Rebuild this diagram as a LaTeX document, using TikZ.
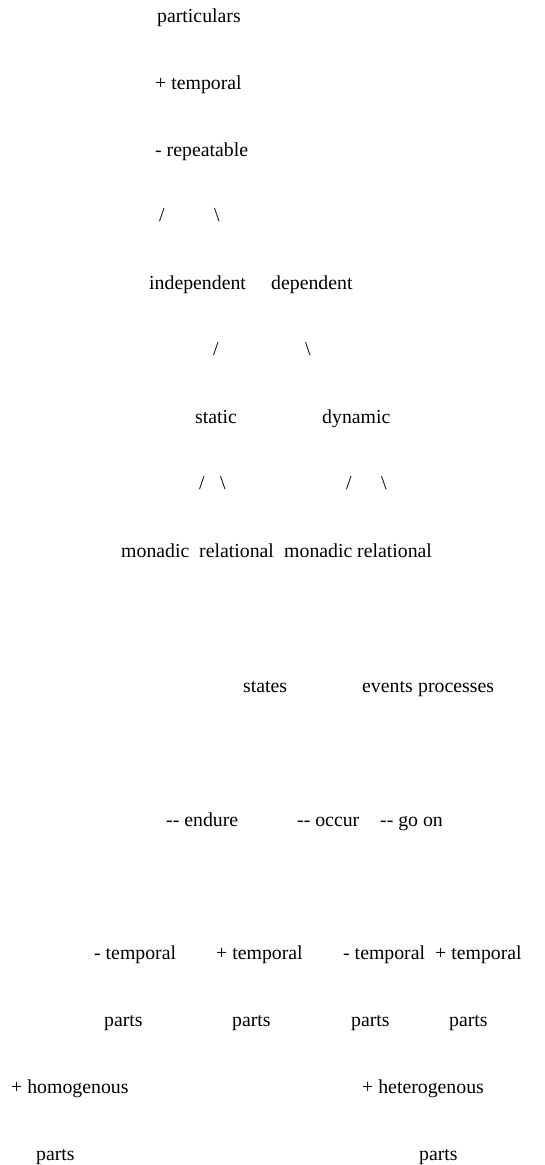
\documentclass[tikz,border=0pt]{standalone}
\usepackage{fontspec}
\setmainfont{Liberation Serif}[Ligatures=TeXOff]
\usepackage{tikz}

\begin{document}
\begin{tikzpicture}[x=1pt,y=-1pt,
  lbl/.style={anchor=base west,inner sep=0pt,font=\fontsize{19.8}{24}\selectfont}]
  \useasboundingbox (0,0) rectangle (545,1165);

  % top of the tree
  \node[lbl] (part) at (157,22) {particulars};
  \node[lbl] (ptemp) at (155,89) {+ temporal};
  \node[lbl] (mrep) at (155,156) {- repeatable};
  \node[lbl] (sl1) at (159,221) {/};
  \node[lbl] (bs1) at (214,221) {\textbackslash};
  \node[lbl] (indep) at (149,289) {independent};
  \node[lbl] (dep) at (271,289) {dependent};

  % second split
  \node[lbl] (sl2) at (213,355) {/};
  \node[lbl] (bs2) at (305,355) {\textbackslash};
  \node[lbl] (stat) at (195,423) {static};
  \node[lbl] (dyn) at (322,423) {dynamic};
  \node[lbl] (sl3) at (199,489) {/};
  \node[lbl] (bs3) at (220,489) {\textbackslash};
  \node[lbl] (sl4) at (346,489) {/};
  \node[lbl] (bs4) at (381,489) {\textbackslash};
  \node[lbl] (mon1) at (121,557) {monadic};
  \node[lbl] (rel1) at (199,557) {relational};
  \node[lbl] (mon2) at (284,557) {monadic};
  \node[lbl] (rel2) at (357,557) {relational};

  % kinds
  \node[lbl] (stts) at (243,692) {states};
  \node[lbl] (evts) at (362,692) {events};
  \node[lbl] (proc) at (418,692) {processes};
  \node[lbl] (endu) at (166,826) {-- endure};
  \node[lbl] (occu) at (297,826) {-- occur};
  \node[lbl] (goon) at (380,826) {-- go on};

  % parts
  \node[lbl] (mt1) at (94,959) {- temporal};
  \node[lbl] (pt1) at (216,959) {+ temporal};
  \node[lbl] (mt2) at (343,959) {- temporal};
  \node[lbl] (pt2) at (435,959) {+ temporal};
  \node[lbl] (pa1) at (104,1026) {parts};
  \node[lbl] (pa2) at (232,1026) {parts};
  \node[lbl] (pa3) at (351,1026) {parts};
  \node[lbl] (pa4) at (449,1026) {parts};
  \node[lbl] (homo) at (11,1093) {+ homogenous};
  \node[lbl] (hete) at (362,1093) {+ heterogenous};
  \node[lbl] (pa5) at (36,1160) {parts};
  \node[lbl] (pa6) at (419,1160) {parts};
\end{tikzpicture}
\end{document}
